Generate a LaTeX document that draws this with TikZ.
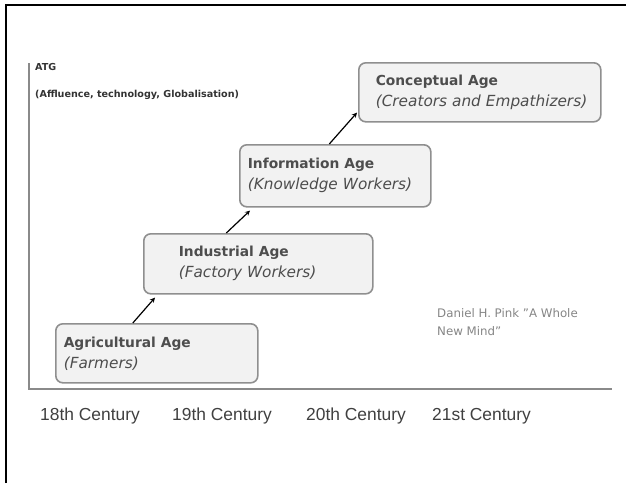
\documentclass[tikz,border=0pt]{standalone}
\usepackage{xcolor}
\usepackage{fontspec}
\setmainfont{DejaVu Sans}
\newfontfamily\centfont{Liberation Sans}
\usepackage{tikz}
\usetikzlibrary{calc, positioning}

\definecolor{boxgray}{HTML}{8F8F8F}
\definecolor{boxfill}{HTML}{F2F2F2}
\definecolor{axisgray}{HTML}{8A8A8A}
\definecolor{agetext}{HTML}{4D4D4D}
\definecolor{notegray}{HTML}{858585}
\definecolor{centtext}{HTML}{404040}

\newcommand{\agetext}[3]{\hspace*{#1pt}\textbf{\fontsize{13.8}{17}\selectfont #2}\\[4pt]%
  \hspace*{#1pt}\textit{\fontsize{15.3}{17}\selectfont (#3)}}

\begin{document}
\begin{tikzpicture}[
  x=1pt, y=-1pt, >=stealth,
  agebox/.style={draw=boxgray, fill=boxfill, rounded corners=7pt, line width=1.6pt,
    anchor=north west, align=left, inner xsep=0pt, inner ysep=0pt, text=agetext,
    font=\fontsize{15}{17}\selectfont},
  link/.style={->, line width=1.2pt, black},
  axis/.style={axisgray, line width=2.5pt},
  atgtxt/.style={anchor=west, inner sep=0pt, text=black!80, font=\bfseries\fontsize{9.6}{11}\selectfont},
  cent/.style={anchor=west, inner sep=0pt, text=centtext, font=\centfont\fontsize{17.4}{20}\selectfont}]
  \useasboundingbox (0,0) rectangle (626,483);
  % frame
  \draw[line width=2pt] (6,483) -- (6,5) -- (626,5);
  % axes
  \coordinate (origin) at (29,389);
  \coordinate (ytop) at (29,63);
  \coordinate (xend) at (612,389);
  \draw[axis] (ytop) -- (origin) -- (xend);
  \node[atgtxt] (atg) at (35,67) {ATG};
  \node[atgtxt] (atgfull) at (35,95) {(Affluence, technology, Globalisation)};
  % ages
  \node[agebox, text width=202pt, minimum height=59pt] (agri) at (55,323) {\agetext{8}{Agricultural Age}{Farmers}};
  \node[agebox, text width=229pt, minimum height=60pt] (ind) at (143,233) {\agetext{35}{Industrial Age}{Factory Workers}};
  \node[agebox, text width=191pt, minimum height=62pt] (info) at (239,144) {\agetext{8}{Information Age}{Knowledge Workers}};
  \node[agebox, text width=242pt, minimum height=59pt] (conc) at (358,62) {\agetext{17}{Conceptual Age}{Creators and Empathizers}};
  % steps up
  \draw[link] ([xshift=-24pt]agri.north) -- ([xshift=12pt,yshift=-3pt]ind.south west);
  \draw[link] ([xshift=-32pt]ind.north) -- ([xshift=11pt,yshift=-3pt]info.south west);
  \draw[link] ([xshift=-6pt]info.north) -- ([xshift=-1pt,yshift=10pt]conc.south west);
  % source
  \node[anchor=north west, align=left, inner sep=0pt, text=notegray, font=\fontsize{11.8}{18}\selectfont]
    (note) at (437,308) {Daniel H. Pink "A Whole\\New Mind"};
  % centuries
  \node[cent] (c18) at (40,416) {18th Century};
  \node[cent] (c19) at (172,416) {19th Century};
  \node[cent] (c20) at (306,416) {20th Century};
  \node[cent] (c21) at (432,416) {21st Century};
\end{tikzpicture}
\end{document}
